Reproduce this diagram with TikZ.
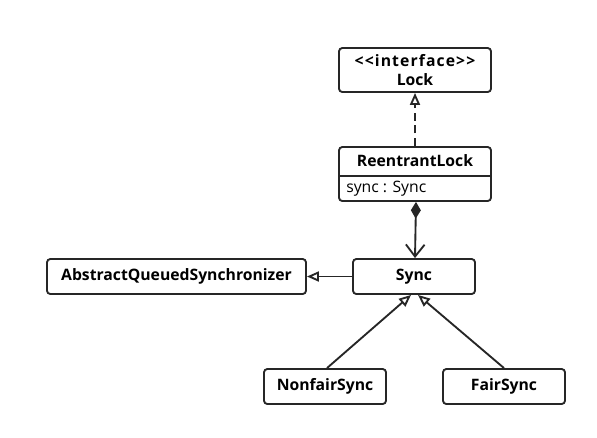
\documentclass[tikz,border=0pt]{standalone}
\usepackage{fontspec}
\setmainfont{Open Sans}
\usetikzlibrary{arrows.meta}
\begin{document}
\begin{tikzpicture}[x=0.75pt,y=-0.75pt,
  lbl/.style={font=\fontsize{11.8}{14}\selectfont\bfseries},
  box/.style={draw=black!85,line width=1.4pt,rounded corners=2.5pt,minimum height=26.25pt,inner sep=0pt,lbl},
  conn/.style={draw=black!85,line width=1.4pt},
  tri/.style={-{Triangle[open,length=9pt,width=7.5pt,fill=white]}},
  dashline/.style={dash pattern=on 6pt off 3.5pt}]
\useasboundingbox (0,0) rectangle (597,437);
\node[box,minimum width=114pt,minimum height=33pt] (lock) at (415,70) {};
\node[lbl,inner sep=0pt] (lockst) at (415,61) {\addfontfeature{LetterSpace=7}<{}<interface>{}>};
\node[lbl,inner sep=0pt] (lockname) at (415,80) {Lock};
\node[box,minimum width=114pt,minimum height=40.5pt] (rl) at (415,174) {};
\node[lbl,inner sep=0pt] (rlname) at (415,161) {ReentrantLock};
\node[font=\fontsize{11.8}{14}\selectfont,anchor=west,inner sep=0pt] (rlattr) at (346,189) {sync : Sync};
\coordinate (dl) at (339,176);
\coordinate (dr) at (491,176);
\draw[conn] (dl) -- (dr);
\node[box,minimum width=91.5pt] (sync) at (414,276.5) {Sync};
\node[box,minimum width=194.25pt] (aqs) at (176.5,276.5) {AbstractQueuedSynchronizer};
\node[box,minimum width=91.5pt] (nf) at (325,386.5) {NonfairSync};
\node[box,minimum width=91.5pt] (fs) at (504,386.5) {FairSync};
\draw[conn,tri,dashline] (rl.north) -- (lock.south);
\draw[conn,{Diamond[length=12.5pt,width=7.5pt]}-{Straight Barb[length=9pt,width=14pt,line width=1.4pt]}] ([xshift=0.75pt]rl.south) -- ([xshift=0.75pt]sync.north);
\draw[conn,tri] (sync.west) -- (aqs.east);
\draw[conn,tri] ([xshift=1.5pt]nf.north) -- ([xshift=-2.25pt]sync.south);
\draw[conn,tri] (fs.north) -- ([xshift=3pt]sync.south);
\end{tikzpicture}
\end{document}
